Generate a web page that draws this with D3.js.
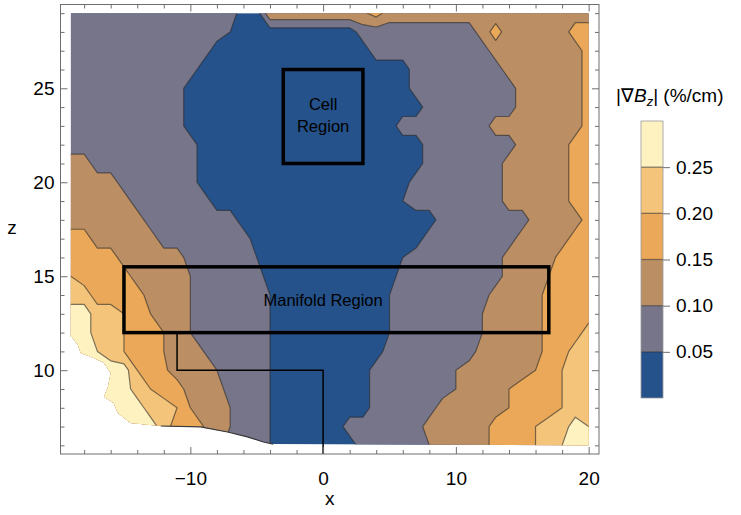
<!DOCTYPE html>
<html lang="en">
<head>
<meta charset="utf-8">
<title>|∇Bz| contour map</title>
<script src="https://cdn.jsdelivr.net/npm/d3@7"></script>
<style>
  body { margin: 0; background: #fff; }
  svg text { font-family: "Liberation Sans", Arial, sans-serif; fill: #000; }
</style>
</head>
<body>
<script>
// |grad Bz| in %/cm on a 1 cm grid
// columns: x = -19 ... 20, rows: z = 29 (top) ... 6 (bottom)
var xMin = -19, xMax = 20, zMin = 6, zMax = 29;
var gradRows = [
  /* z=29 */ [.075,.075,.075,.075,.075,.075,.075,.075,.075,.075, .075,.075,.075,.025,.025,.14,.14,.14,.14,.14, .14,.14,.14,.17,.125,.125,.125,.125,.125,.125, .125,.125,.125,.125,.125,.125,.125,.125,.125,.125],
  /* z=28 */ [.075,.075,.075,.075,.075,.075,.075,.075,.075,.075, .075,.075,.05,.025,.025,.025,.025,.025,.025,.025, .025,.025,.075,.075,.075,.075,.075,.075,.075,.075, .075,.125,.17,.125,.125,.125,.125,.125,.175,.175],
  /* z=27 */ [.075,.075,.075,.075,.075,.075,.075,.075,.075,.075, .075,.025,.025,.025,.025,.025,.025,.025,.025,.025, .025,.025,.025,.075,.075,.075,.075,.075,.075,.075, .075,.075,.125,.125,.125,.125,.125,.125,.125,.175],
  /* z=26 */ [.075,.075,.075,.075,.075,.075,.075,.075,.075,.075, .025,.025,.025,.025,.025,.025,.025,.025,.025,.025, .025,.025,.025,.025,.025,.025,.075,.075,.075,.075, .075,.075,.075,.125,.125,.125,.125,.125,.125,.175],
  /* z=25 */ [.075,.075,.075,.075,.075,.075,.075,.075,.075,.025, .025,.025,.025,.025,.025,.025,.025,.025,.025,.025, .025,.025,.025,.025,.025,.025,.075,.075,.075,.075, .075,.075,.075,.075,.125,.125,.125,.125,.125,.175],
  /* z=24 */ [.075,.075,.075,.075,.075,.075,.075,.075,.075,.025, .025,.025,.025,.025,.025,.025,.025,.025,.025,.025, .025,.025,.025,.025,.025,.025,.025,.075,.075,.075, .075,.075,.075,.075,.125,.125,.125,.125,.125,.175],
  /* z=23 */ [.075,.075,.075,.075,.075,.075,.075,.075,.075,.025, .025,.025,.025,.025,.025,.025,.025,.025,.025,.025, .025,.025,.025,.025,.025,.075,.075,.075,.075,.075, .075,.075,.125,.125,.125,.125,.125,.125,.125,.175],
  /* z=22 */ [.075,.075,.075,.075,.075,.075,.075,.075,.075,.075, .025,.025,.025,.025,.025,.025,.025,.025,.025,.025, .025,.025,.025,.025,.025,.025,.025,.075,.075,.075, .075,.075,.075,.075,.125,.125,.125,.125,.175,.175],
  /* z=21 */ [.125,.125,.075,.075,.075,.075,.075,.075,.075,.075, .025,.025,.025,.025,.025,.025,.025,.025,.025,.025, .025,.025,.025,.025,.025,.025,.025,.075,.075,.075, .075,.075,.075,.125,.125,.125,.125,.125,.175,.175],
  /* z=20 */ [.125,.125,.125,.125,.075,.075,.075,.075,.075,.075, .025,.025,.025,.025,.025,.025,.025,.025,.025,.025, .025,.025,.025,.025,.025,.025,.075,.075,.075,.075, .075,.075,.075,.125,.125,.125,.125,.125,.175,.175],
  /* z=19 */ [.125,.125,.125,.125,.125,.075,.075,.075,.075,.075, .075,.025,.025,.025,.025,.025,.025,.025,.025,.025, .025,.025,.025,.025,.025,.05,.075,.075,.075,.075, .075,.075,.075,.125,.125,.125,.125,.125,.175,.175],
  /* z=18 */ [.125,.125,.125,.125,.125,.125,.075,.075,.075,.075, .075,.075,.075,.025,.025,.025,.025,.025,.025,.025, .025,.025,.025,.025,.025,.025,.025,.025,.075,.075, .075,.075,.075,.075,.075,.125,.125,.125,.125,.175],
  /* z=17 */ [.175,.175,.125,.125,.125,.125,.125,.075,.075,.075, .075,.075,.075,.075,.025,.025,.025,.025,.025,.025, .025,.025,.025,.025,.025,.025,.025,.075,.075,.075, .075,.075,.075,.075,.125,.125,.125,.125,.175,.175],
  /* z=16 */ [.175,.175,.175,.175,.125,.125,.125,.125,.125,.075, .075,.075,.075,.075,.05,.025,.025,.025,.025,.025, .025,.025,.025,.025,.025,.05,.075,.075,.075,.075, .075,.075,.075,.125,.125,.125,.125,.175,.175,.175],
  /* z=15 */ [.2,.175,.175,.175,.175,.125,.125,.125,.125,.1, .075,.075,.075,.075,.075,.025,.025,.025,.025,.025, .025,.025,.025,.025,.025,.075,.075,.075,.075,.075, .075,.075,.075,.125,.125,.125,.15,.175,.175,.175],
  /* z=14 */ [.225,.225,.175,.175,.175,.175,.125,.125,.125,.1, .075,.075,.075,.075,.075,.05,.025,.025,.025,.025, .025,.025,.025,.025,.05,.075,.075,.075,.075,.075, .075,.075,.125,.125,.125,.125,.175,.175,.175,.175],
  /* z=13 */ [.275,.275,.225,.225,.2,.175,.15,.125,.125,.1, .075,.075,.075,.075,.075,.05,.025,.025,.025,.025, .025,.025,.025,.025,.05,.075,.075,.075,.075,.075, .075,.1,.125,.125,.125,.125,.175,.175,.175,.175],
  /* z=12 */ [.275,.275,.225,.225,.2,.175,.175,.15,.125,.1, .075,.075,.075,.075,.075,.05,.025,.025,.025,.025, .025,.025,.025,.025,.05,.075,.075,.075,.075,.075, .075,.1,.125,.125,.125,.125,.175,.175,.175,.225],
  /* z=11 */ [.275,.275,.25,.225,.2,.175,.175,.15,.125,.125, .1,.075,.075,.075,.075,.05,.025,.025,.025,.025, .025,.025,.025,.025,.075,.075,.075,.075,.075,.075, .075,.125,.125,.125,.125,.125,.175,.175,.225,.225],
  /* z=10 */ [.275,.275,.275,.275,.275,.2,.175,.16,.125,.125, .125,.1,.075,.075,.075,.05,.025,.025,.025,.025, .025,.025,.025,.075,.075,.075,.075,.075,.075,.1, .125,.125,.125,.125,.125,.15,.175,.2,.225,.225],
  /* z=9  */ [.275,.275,.275,.275,.275,.225,.2,.175,.175,.125, .125,.125,.075,.075,.075,.05,.025,.025,.025,.025, .025,.025,.025,.075,.075,.075,.075,.075,.075,.1, .125,.125,.125,.15,.175,.175,.175,.2,.225,.225],
  /* z=8  */ [.275,.275,.275,.275,.275,.275,.225,.225,.2,.15, .125,.125,.1,.075,.075,.05,.025,.025,.025,.025, .025,.025,.025,.075,.075,.075,.075,.075,.125,.125, .125,.125,.125,.15,.175,.175,.175,.2,.225,.225],
  /* z=7  */ [.275,.275,.275,.275,.275,.275,.275,.225,.175,.175, .15,.125,.1,.075,.075,.05,.025,.025,.025,.025, .025,.075,.075,.075,.075,.075,.075,.125,.125,.125, .125,.125,.175,.175,.175,.2,.225,.225,.275,.25],
  /* z=6  */ [.175,.175,.175,.175,.175,.175,.175,.175,.175,.175, .125,.125,.075,.075,.075,.05,.025,.025,.025,.025, .025,.025,.075,.075,.075,.075,.075,.1,.125,.125, .125,.125,.175,.175,.175,.2,.225,.25,.275,.275]
];

// contour levels and band colours (0 - 0.30 %/cm)
var levels = [0.05, 0.10, 0.15, 0.20, 0.25];
var bandColors = ["#25528a", "#77758a", "#bb8f63", "#eaa858", "#f3c47a", "#fef2c1"];
var legendTicks = [0.05, 0.10, 0.15, 0.20, 0.25];

// lower-left edge of the measured region (x, z)
var edgeX = [-18.92, -18.47, -18.25, -17.27, -16.52, -16.0, -16.2, -16.5, -15.77, -15.47, -14.5, -12.23, -9.23, -7.2, -5.7, -4.5, -3.75];
var edgeZ = [11.77, 11.34, 10.92, 10.65, 10.39, 9.85, 9.11, 8.58, 8.26, 7.73, 7.19, 7.03, 6.98, 6.71, 6.45, 6.18, 6.07];

// ticks
var xMajor = [-10, 0, 10, 20];
var xMinor = [-18, -16, -14, -12, -8, -6, -4, -2, 2, 4, 6, 8, 12, 14, 16, 18];
var zMajor = [10, 15, 20, 25];
var zMinor = [6, 7, 8, 9, 11, 12, 13, 14, 16, 17, 18, 19, 21, 22, 23, 24, 26, 27, 28, 29];

// outlined regions
var cellBox = { x0: -3, x1: 3, z0: 21, z1: 26 };
var manifoldBox = { x0: -15, x1: 17, z0: 12, z1: 15.5 };
var pipeX = [-11, -11, 0, 0];
var pipeZ = [12, 10, 10, 5.54];

gradRows.forEach(function(r, i) {
  if (r.length !== 40) throw new Error("row " + i + " has " + r.length);
});

var W = 741, H = 515;
var frame = { left: 60.5, right: 599, top: 4.5, bottom: 454 };

var svg = d3.select("body").append("svg")
  .attr("width", W)
  .attr("height", H);

var x = d3.scaleLinear().domain([-19.78, 20.78]).range([frame.left, frame.right]);
var y = d3.scaleLinear().domain([5.54, 29.46]).range([frame.bottom, frame.top]);

// clip to the measured region
var clipPts = [[xMin, zMax], [xMax, zMax], [xMax, zMin]];
for (var k = edgeX.length - 1; k >= 0; k--) clipPts.push([edgeX[k], edgeZ[k]]);
clipPts.push([xMin, edgeZ[0]]);

svg.append("clipPath").attr("id", "dataClip")
  .append("polygon")
  .attr("points", clipPts.map(function(p) { return x(p[0]) + "," + y(p[1]); }).join(" "));

var nx = gradRows[0].length, nz = gradRows.length;
var values = [].concat.apply([], gradRows);

var contours = d3.contours().size([nx, nz]).thresholds(levels)(values);

// grid coords -> pixels (value i sits at i + 0.5)
var gx = d3.scaleLinear().domain([0.5, nx - 0.5]).range([x(xMin), x(xMax)]);
var gz = d3.scaleLinear().domain([0.5, nz - 0.5]).range([y(zMax), y(zMin)]);
var path = d3.geoPath(d3.geoTransform({
  point: function(px, py) { this.stream.point(gx(px), gz(py)); }
}));

var plot = svg.append("g").attr("clip-path", "url(#dataClip)");

plot.append("rect")
  .attr("x", x(xMin)).attr("y", y(zMax))
  .attr("width", x(xMax) - x(xMin))
  .attr("height", y(zMin) - y(zMax))
  .attr("fill", bandColors[0]);

plot.selectAll("path.band")
  .data(contours)
  .enter()
  .append("path")
  .attr("class", "band")
  .attr("d", path)
  .attr("fill", function(d, i) { return bandColors[i + 1]; })
  .attr("stroke", "#2a2a2a")
  .attr("stroke-opacity", 0.6)
  .attr("stroke-width", 1.2)
  .attr("stroke-linejoin", "round");

// dark edge along the bottom of the region
var edgeLine = d3.line().x(function(d) { return x(d[0]); }).y(function(d) { return y(d[1]); });
svg.append("path")
  .attr("d", edgeLine(edgeX.slice(11).map(function(v, i) { return [v, edgeZ[i + 11]]; })))
  .attr("fill", "none")
  .attr("stroke", "#3a3a3a")
  .attr("stroke-width", 1.2);

// boxes and pipe outline
svg.append("path")
  .attr("d", edgeLine(pipeX.map(function(v, i) { return [v, pipeZ[i]]; })))
  .attr("fill", "none")
  .attr("stroke", "#000")
  .attr("stroke-width", 1.5);

[cellBox, manifoldBox].forEach(function(b) {
  svg.append("rect")
    .attr("x", x(b.x0)).attr("y", y(b.z1))
    .attr("width", x(b.x1) - x(b.x0))
    .attr("height", y(b.z0) - y(b.z1))
    .attr("fill", "none")
    .attr("stroke", "#000")
    .attr("stroke-width", 3.5);
});

var cellMid = y((cellBox.z0 + cellBox.z1) / 2);
svg.append("text").attr("x", x(0)).attr("y", cellMid - 6.5)
  .attr("text-anchor", "middle").attr("font-size", 16.5).text("Cell");
svg.append("text").attr("x", x(0)).attr("y", cellMid + 15.5)
  .attr("text-anchor", "middle").attr("font-size", 16.5).text("Region");
svg.append("text").attr("x", x(0)).attr("y", y((manifoldBox.z0 + manifoldBox.z1) / 2) + 6)
  .attr("text-anchor", "middle").attr("font-size", 16.5).text("Manifold Region");

// frame + ticks (inward, Mathematica style)
svg.append("rect")
  .attr("x", frame.left).attr("y", frame.top)
  .attr("width", frame.right - frame.left)
  .attr("height", frame.bottom - frame.top)
  .attr("fill", "none")
  .attr("stroke", "#6e6e6e")
  .attr("stroke-width", 1);

function styleAxis(g) {
  g.select(".domain").remove();
  g.selectAll("line").attr("stroke", "#6e6e6e");
  g.selectAll("text").attr("font-size", 19).attr("font-family", "Liberation Sans, Arial, sans-serif").attr("fill", "#000");
}

var fmt = function(d) { return d < 0 ? "\u2212" + Math.abs(d) : String(d); };

svg.append("g").attr("transform", "translate(0," + frame.bottom + ")")
  .call(d3.axisBottom(x).tickValues(xMajor).tickSize(-7).tickPadding(17.5).tickFormat(fmt)).call(styleAxis);
svg.append("g").attr("transform", "translate(0," + frame.bottom + ")")
  .call(d3.axisBottom(x).tickValues(xMinor).tickSize(-4).tickFormat("")).call(styleAxis);
svg.append("g").attr("transform", "translate(0," + frame.top + ")")
  .call(d3.axisTop(x).tickValues(xMajor).tickSize(-7).tickFormat("")).call(styleAxis);
svg.append("g").attr("transform", "translate(0," + frame.top + ")")
  .call(d3.axisTop(x).tickValues(xMinor).tickSize(-4).tickFormat("")).call(styleAxis);

svg.append("g").attr("transform", "translate(" + frame.left + ",0)")
  .call(d3.axisLeft(y).tickValues(zMajor).tickSize(-7).tickPadding(6).tickFormat(fmt)).call(styleAxis);
svg.append("g").attr("transform", "translate(" + frame.left + ",0)")
  .call(d3.axisLeft(y).tickValues(zMinor).tickSize(-4).tickFormat("")).call(styleAxis);
svg.append("g").attr("transform", "translate(" + frame.right + ",0)")
  .call(d3.axisRight(y).tickValues(zMajor).tickSize(-7).tickFormat("")).call(styleAxis);
svg.append("g").attr("transform", "translate(" + frame.right + ",0)")
  .call(d3.axisRight(y).tickValues(zMinor).tickSize(-4).tickFormat("")).call(styleAxis);

svg.append("text").attr("x", (frame.left + frame.right) / 2).attr("y", 505)
  .attr("text-anchor", "middle").attr("font-size", 19).text("x");
svg.append("text").attr("x", 12).attr("y", 234)
  .attr("text-anchor", "middle").attr("font-size", 19).text("z");

// colour bar legend
var cb = d3.scaleLinear().domain([0, 0.30]).range([398, 121]);
var cbX = 641, cbW = 22;
var bandEdges = [0].concat(levels).concat([0.30]);

var legend = svg.append("g");
legend.selectAll("rect.cb")
  .data(bandColors)
  .enter()
  .append("rect")
  .attr("class", "cb")
  .attr("x", cbX)
  .attr("y", function(d, i) { return cb(bandEdges[i + 1]); })
  .attr("width", cbW)
  .attr("height", function(d, i) { return cb(bandEdges[i]) - cb(bandEdges[i + 1]); })
  .attr("fill", function(d) { return d; });

legend.selectAll("line.sep")
  .data(levels)
  .enter()
  .append("line")
  .attr("x1", cbX).attr("x2", cbX + cbW)
  .attr("y1", function(d) { return cb(d); })
  .attr("y2", function(d) { return cb(d); })
  .attr("stroke", "#2a2a2a")
  .attr("stroke-opacity", 0.6)
  .attr("stroke-width", 1.2);

legend.append("rect")
  .attr("x", cbX).attr("y", cb(0.30))
  .attr("width", cbW).attr("height", cb(0) - cb(0.30))
  .attr("fill", "none")
  .attr("stroke", "#999")
  .attr("stroke-width", 0.8);

legend.append("g").attr("transform", "translate(" + (cbX + cbW) + ",0)")
  .call(d3.axisRight(cb).tickValues(legendTicks).tickSize(7).tickPadding(6).tickFormat(d3.format(".2f")))
  .call(styleAxis);

var title = svg.append("text").attr("x", 616).attr("y", 102).attr("font-size", 19);
title.append("tspan").text("|\u2207");
title.append("tspan").attr("font-style", "italic").text("B");
title.append("tspan").attr("font-style", "italic").attr("font-size", 13).attr("dy", 4).text("z");
title.append("tspan").attr("dy", -4).text("| (%/cm)");
</script>
</body>
</html>
